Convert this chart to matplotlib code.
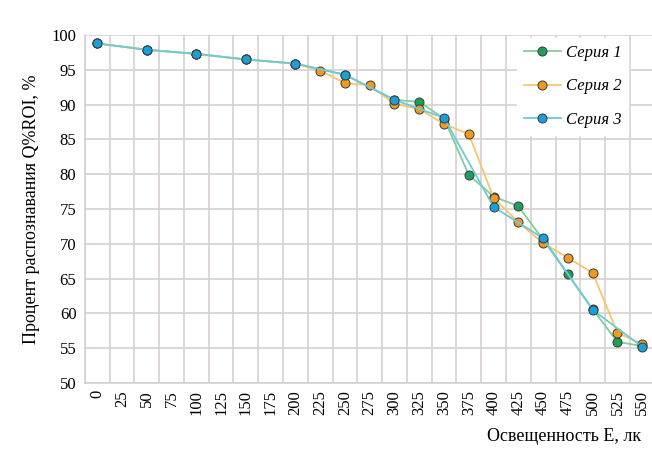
import numpy as np
import matplotlib
matplotlib.use("Agg")
import matplotlib.pyplot as plt

plt.rcParams['font.family'] = ['Liberation Serif', 'DejaVu Serif']

# data
categorias = [str(v) for v in range(0, 551, 25)]

x1 = [0, 50, 100, 150, 200, 250, 300, 325, 350, 375, 400, 425, 450, 475, 500, 525, 550]
serie1 = [98.8, 97.9, 97.3, 96.5, 95.9, 94.3, 90.7, 90.4, 88.0, 79.9, 76.8, 75.4, 70.6, 65.6, 60.6, 55.9, 55.3]

x2 = [0, 50, 100, 150, 200, 225, 250, 275, 300, 325, 350, 375, 400, 425, 450, 475, 500, 525, 550]
serie2 = [98.8, 97.9, 97.3, 96.5, 95.9, 94.9, 93.1, 92.8, 90.1, 89.4, 87.2, 85.8, 76.6, 73.1, 70.1, 68.0, 65.8, 57.2, 55.6]

x3 = [0, 50, 100, 150, 200, 250, 300, 350, 400, 450, 500, 550]
serie3 = [98.8, 97.9, 97.3, 96.5, 95.9, 94.3, 90.7, 88.1, 75.3, 70.8, 60.5, 55.2]

# colores
verde, verde_l = "#1e9e5a", "#7fcf9c"
naranja, naranja_l = "#f29a1d", "#f6c66e"
azul, azul_l = "#1a9fd9", "#6cc9d9"
rejilla = "#d8d0d0"

fig = plt.figure(figsize=(6.52, 4.50), dpi=100)
ax = fig.add_axes([0.130, 0.149, 0.874, 0.773])


def idx(xs):
    return [x / 25 for x in xs]


for xs, ys, c, cl, lab in [(x1, serie1, verde, verde_l, "Серия 1"),
                            (x2, serie2, naranja, naranja_l, "Серия 2"),
                            (x3, serie3, azul, azul_l, "Серия 3")]:
    ax.plot(idx(xs), ys, color=cl, lw=1.3, marker='o', ms=6.5,
            markerfacecolor=c, markeredgecolor="#3a3a3a", markeredgewidth=0.7,
            label=lab, zorder=3)

ax.set_xlim(-0.5, len(categorias) - 0.5)
ax.set_ylim(50, 100)
ax.set_xticks(range(len(categorias)))
ax.set_xticklabels(categorias, rotation=90, fontsize=12)
ax.set_xticks(np.arange(-0.5, len(categorias), 1), minor=True)
ax.set_yticks(range(50, 101, 5))
ax.tick_params(axis='y', labelsize=12, length=0, pad=6)
ax.tick_params(axis='x', which='both', length=0, pad=5)
ax.grid(False)
ax.grid(True, axis='y', which='major', color=rejilla, lw=1.2)
ax.grid(True, axis='x', which='minor', color=rejilla, lw=1.2)
ax.set_axisbelow(True)
for s in ['top', 'right']:
    ax.spines[s].set_visible(False)
for s in ['left', 'bottom']:
    ax.spines[s].set_color(rejilla)
    ax.spines[s].set_linewidth(1.2)

ax.set_ylabel("Процент распознавания Q%ROI, %", fontsize=13, labelpad=8)
fig.text(0.983, 0.03, "Освещенность Е, лк", fontsize=13, ha='right', va='center')

leg = ax.legend(loc='upper right', bbox_to_anchor=(0.968, 1.015), frameon=True,
                prop={'style': 'italic', 'size': 12}, handlelength=2.2,
                labelspacing=1.05, borderpad=0.4, handletextpad=0.3)
leg.get_frame().set_facecolor('white')
leg.get_frame().set_edgecolor('white')
leg.get_frame().set_alpha(1)

fig.savefig("out.png", dpi=100)
